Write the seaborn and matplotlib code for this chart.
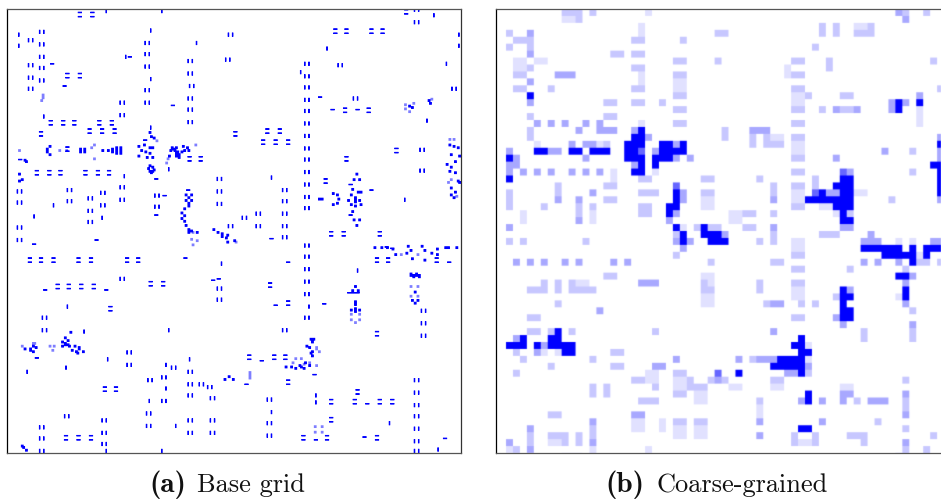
import numpy as np
import matplotlib
matplotlib.use("Agg")
import matplotlib.pyplot as plt
from matplotlib.colors import LinearSegmentedColormap
import seaborn as sns

# ---- base grid: blinker pairs and single bars, (row, col) of the centre
side_by_side = [
 (16,24.5),(22,16.5),(25,25),(34,25),(40,16.5),(42,25),(49,16.5),(51,25),(57,16.5),(67,83),(76,83),
 (24,101),(32,101),(41,101),(58.5,101),(67,101),(37,132),(46,132),(55,133),(64,132),(72,132),(81,132),
 (17.5,161),(36,159),(131,9),(139,9),(130,45),(138,45),(136,60),(132,69),(145,60),(141,69),(153,60),
 (128.5,83),(137,83),(134,108),(142,108),(122,152.5),(131,152.5),(139.5,152.5),(157,9),(156,161),
 (0.5,295),(9,295),(40,240),(39,216),(47.5,216),(56,216),(65,216),(73,216),(82,216),(91,216),(100,216),
 (108.5,216),(117,216),(126,216),(135,216),(143,216),(64,251),(57,322),(101,299),(116,299),(130,200),
 (138,200),(147,200),(156,200),(147,181),(156,181),(150,171),
 (166,9),(194,83),(201,152.5),(209,152.5),(222,26.5),(231,26.5),(247,88),(256,88),(257.5,120),(265,112.5),
 (267,102.5),(261,132),(270,132),(270,140),(272,146),(278,132),(280,147.5),(282,112.5),(291,101.5),
 (300,101.5),(296,132),(296,147.5),(305,132),(305,147.5),(293,42.5),(296,70),(305,70),(313,70),(301,25),
 (309,25),(318,25),
 (164,200),(170,216),(178,216),(187,216),(196,216),(205,216),(222,216),(231,200),(217,300),(226,300),
 (235,300),(267,295),(276,295),(285,295),(293,295),(302,295),(311,295),(318,295),(281,188.5),(298,188.5),
 (307,188.5),
]
stacked = [
 (4,52),(4,61),(48,43),(48,52),(82,31),(82,40),(82,48),(82,66),(82,75),(88,59),(88,68),(88,77),(90,24),
 (101,43),(118,21),(118,30),(118,38),(118,56),(118,65),(118,73),(108,131),(108,139),(90,164),
 (2,287),(15.5,235.5),(15.5,244),(15.5,262),(15.5,270.5),(73,243),(73,260.5),(88,187),(88,195.5),
 (95.5,184),(95.5,193),(95.5,202),(101.5,280.5),(108,244),(124,229),(162,233),(162,242),(162,268),
 (181,16),(181,24.5),(181,33),(181,51),(181,59.5),(181,85.5),(181,94.5),(197.5,103),(197.5,112),(200,36),
 (200,44.5),(200,53),(200,62),(216,74.5),(274,69.5),(274,78),(309,42),(309,51),(309,59.5),
 (181,265.5),(181,274),(181,309),(199,189),(212,202),(234,265.5),(251,174),(251,192),(251,200.5),(269,202),
 (276,252),(283,233),(283,250),(283,268),(283,277),(296,233),(309,213),(309,230.5),(309,265.5),
]
upright_bars = [
 (17.5,8),(26,8),(15,103),(50,103),(24,136),(77,26),(85,103),(120,84),(115,116),(141,33),(150,68),(149,19),
 (34,85),(1,71),(1,111),
 (3.5,307),(17.5,325),(26,325),(28.5,230),(45,211),(39,316),(80,302),(121,190),(137,286),
 (214,43),(232,55),(231,116),(183,154),(252,71.5),(252,131),(256,114),(261,14),(258,41.5),(273,114),(282,102.5),
 (300,121),(318,71),(318,111),
 (188,252),(214,217),(290,190),(298,275),(317,310),(278,222),(283,222),
]
flat_bars = [
 (39,32),(34,88),(55,41),(69,119),(122,107),(134,113),(148,107),(108,9),
 (63,225),(72,234),(72,252),(130,262),(94,99),
 (169,19),(166.5,64.5),(202,27),(202,71),(179,128),(195,148),(194,152),(251,21),
 (165,190),(182,202),(213,193),(212,228),(253,183),(270,172),(284,259),(182,318),(310,222),(308,257),(309,315),
 (125.5,247),(148,247),(204,246),(204,249),(204,252),(263,221),(130,130),(172,277),(171,273),
]
# ---- base grid: irregular patterns, (row, col) of small clumps
pattern_cells = [
 (88,102),(91,103),(92,105),(98,94),(97,98),(99,102),(99,104),(101,96),(102,99),(103,102),(105,94),(106,100),(106,104),
 (112,102),(113,104),(117,103),(116,102),(115,105),(114,101),(116,104),
 (99,118),(99,121),(98,126),(99,129),(101,117),(101,120),(102,122),(101,127),(101,130),(105,116),(105,121),(106,123),
 (100,119),(102,125),(103,121),(104,123),
 (100,52),(102,52),(100,55),(102,55),(101,68),(101,72),(100,75),(102,75),(99,78),(101,78),(103,78),(99,81),(101,81),(103,81),
 (100,28),(102,28),(98,30),(104,30),(109,13),(108,12),(118,8),(122,10),(123,8),
 (133,128),(133,132),(135,130),(137,128),(137,132),(139,130),(141,130),
 (143,127),(146,125),(148,127),(150,125),(152,127),(155,128),(158,130),(159,132),(160,136),(160,130),
 (158,148),(160,151),(161,154),(162,158),(163,154),(164,157),(167,158),(166,163),
 (69,289),(70,291),(65,303),(67,304),
 (97,318),(98,321),(99,324),(104,319),(105,325),(109,322),(111,316),(113,319),(116,318),(117,322),(128,319),(123,324),(124,325),
 (131,322),(133,319),(135,321),(136,224),(136,226),(132,234),(140,234),(133,237),(139,237),(136,238),
 (118,251),(122,249),(122,253),(129,248),(131,252),(131,254),(133,247),(137,245),(137,250),(137,253),(140,247),(141,250),(140,254),
 (136,250),(138,250),(135,250),(145,248),(151,249),(151,253),(155,251),
 (244,12),(244,16),(242,18),(243,20),(245,16),(246,18),
 (236,41),(238,43),(239,39),(241,41),(242,44),(242,39),(240,41),(241,43),(232,45),
 (245,46),(246,49),(242,48),(243,51),(246,54),(247,50),(244,51),
 (266,156),(264,159),(266,162),
 (171,264),(171,269),(171,273),(172,277),(176,279),(175,287),(170,288),(173,290),(179,291),(170,298),(173,300),(180,300),
 (175,305),(172,309),(176,309),(171,315),(171,317),(171,323),
 (191,290),(191,292),(191,294),(191,296),(190,290),(192,292),(190,294),(192,296),
 (203,293),(209,291),(209,295),(211,293),
 (199,250),(202,248),(202,252),(210,250),(212,250),(216,247),(216,253),(216,250),(215,250),(217,250),
 (237,218),(237,220),(239,219),(242,215),(243,217),(246,219),(247,218),(249,219),
 (257,200),(257,204),(258,207),(257,211),(258,213),(256,217),(254,214),(256,210),
 (314,10),(315,11),(317,13),
]
faint_cells = [
 (94,107),(101,8),(61,25),(63,25),(65,24),(97,135),(110,114),(107,115),(99,60),(97,62),(107,62),
 (101,37),(101,42),(242,10),(240,18),(240,19),(242,30),(242,33),(245,32),
 (68,286),(73,289),(67,292),(71,286),(64,305),(93,318),(93,321),(124,317),(122,319),(134,323),
 (219,247),(219,253),(223,247),(223,253),(225,250),(199,290),(199,295),(206,290),(206,295),
 (176,283),(176,295),(243,222),(244,222),(251,207),(251,211),(254,205),(255,213),(254,217),(256,222),
 (246,224),(263,174),(261,174),(265,174),(160,133),(166,136),(169,133),(165,132),
 (300,221),(300,226),(304,221),(304,226),(167,164),
]

# ---- coarse grid: row -> "columns:level" (level 1 faint ... 5 full)
coarse_rows = {
 0:"8-10:2 12:2 20:1 56:3 57:2 60:2", 1:"8-9:1 10:2 57:3", 2:"19:1 45:2 47:2 50-51:1 52:2",
 3:"0:2 3:3 19:1 30-31:2 45:2 47:2 50-52:2", 4:"1-3:2 18-19:2 25:2", 5:"0:2 3:2 44:2",
 6:"3:3 15-16:2 18-19:2", 7:"1-2:1 4-5:1 24-25:2 30:2 41-42:2 46:2 61:2",
 8:"1-2:1 3:2 18-19:2 40:1 46:2", 9:"1-2:2 7-9:3 19:1 24-25:2 40:1 41-42:2", 10:"3:3 19:1 24-25:1",
 11:"1-2:2 6:2 18-19:2 24-25:1 41-42:2 62:2", 12:"3:5 24-25:2 41-42:1 43:2 48-49:2 59:3",
 13:"3:3 14-15:2 18-19:2 22:2 41-42:1 55:3 56:5 57:3 59:5", 14:"24-25:2 41-42:2 45:2 47:3 48-49:2 50:3 55:3 56:5 59:1",
 15:"3:2 14-15:2 59:1", 16:"4:3 6:3 8:3 11:3 13:3 19:1 24-25:2 41-42:2 59:1",
 17:"3:2 10:3 13-15:3 18:3 19:5 31:2 35-37:3", 18:"3:2 18-19:5 20:3 31:2 35:2 37:2 38-39:1 41-42:2 62:3",
 19:"4:1 9:3 11-12:3 13:1 14:2 17-19:5 22-23:5 24:3 25:5 35:2 37-39:2 41-42:1 62:5",
 20:"0:3 4-5:5 6-7:3 9-10:5 12-14:5 17-18:5 19:4 21:3 22-25:5 41-42:1 54:3 58:2 62:3",
 21:"0:5 1:3 11:3 17-19:5 21-23:5 24:3 26:3 41-42:2 47:3 62:3", 22:"0-1:3 18:3 19:5 21:5 61-62:5",
 23:"0:3 2:3 4:3 6:3 9:3 11:3 13:3 15:1 18-19:5 21:1 41-42:2 48:4 49:3 58:2 62:5",
 24:"0:5 15:1 19-20:2 28-29:2 36:2 44:2 48-49:5 62:5", 25:"7:2 14-15:2 24:4 38:2 41-42:2 44:2 47-49:5 62:5",
 26:"0:2 7:2 12:3 19-21:2 24:5 25:3 28-29:2 38:2 41-42:1 44:4 45:5 46-47:3 48-49:5 50-51:1 62:5",
 27:"0:2 7:3 10:3 14-15:2 24:5 25:3 28-29:1 38:3 41-42:1 43-49:5 55:2 62:3",
 28:"0:2 5:2 10:2 12:2 19-20:2 23-24:5 28-29:1 41-42:2 45-46:1 47-49:5",
 29:"2:1 10:2 12:1 19-20:2 23:5 24:3 32-33:1 34-35:2 38:2 47:1 48:5 49:2", 30:"2:1 10:3 12:1 23:3 32-33:1 48-49:5",
 31:"0:3 24:5 25:1 27:2 28:5 29-30:2 34-35:2 38:3 48-49:3", 32:"24:2 25:5 28-30:5 31:3 38:2 45-47:2 52:3",
 33:"0:2 2:2 11:2 24:3 25:5 26:3 29-31:5 36:2 38:2 41-42:1 51-53:3 56:1 58:1 61-62:3",
 34:"25:3 41-42:1 51-56:5 58:5 60-62:5", 35:"24:2 41-42:2 54-58:5 59:1 60:5",
 36:"1:3 3:3 5:3 8:3 10:3 15:3 17:3 29:2 38-39:2 51:3 53:3 56:3 58:5 59-60:2 62:2", 37:"41-42:2 49:2 57:2",
 38:"14-15:2 28-29:1 56-57:5 58:3", 39:"5:2 7:2 9:2 10-11:1 19-21:3 28:2 29:1 36:2 41-42:2 57:3",
 40:"3-5:2 7:2 9-12:2 28-29:2 36:2 41-42:1 48:5 49:3 57:5", 41:"28-29:1 41-42:1 47:2 48-49:5 56:1 57:5",
 42:"7:2 28-29:1 37:2 38-39:3 42:2 44:2 48:5 57:3", 43:"13:3 48-49:5 58:2", 44:"3-4:2 41-42:2 47:3 48-49:5",
 45:"48:3 58:3", 46:"3-4:2 6:2 7:5 9:2 21:2 38:3 51:2 58:2", 47:"1:3 2:5 6-7:5 42:5 51:2 58:2",
 48:"0-2:5 4:5 5:3 6-9:5 41-42:5 43:1", 49:"1:2 4:3 5:1 7:1 8-9:5 15-16:2 42-43:5",
 50:"2:2 12:2 24:3 33:3 35:2 36-38:3 39-42:5 43:1", 51:"6:2 15-16:2 21-22:3 38-42:5 43:3",
 52:"1:2 20-21:1 24-25:2 30:4 33:5 40-41:3 42:5 43:2", 53:"18-19:2 20-21:1 24-25:1 26:2 29:2 30:3 31:2 38-39:2 57:2",
 54:"12:2 14:2 21:2 24-25:1 26:2 27-28:2 32-33:1 38-39:1 48-49:1", 55:"12:2 14:2 24-25:2 27-28:1 43:5 48-49:3 57:3",
 56:"19-21:2 27-28:1 36:2 42:3 43:5 45:3 48:3 50:2 52-54:3 57:2", 57:"36:1 57:2", 58:"6-7:2 18-19:3 36:1 57:3",
 59:"12:3 18-19:1 22:1 24-25:2 27-28:2 36:3 45:3 53:2", 60:"3:3 12:2 18-19:1 22:1 24-25:1 27-28:1 42-43:5 57:2",
 61:"3:2 6-8:2 10:2 12:2 24-25:1 27-28:1 36:3 41:2 44:2 49-51:2 61:2",
 62:"0:3 3:2 6-7:1 8:2 10:2 12:3 41:2 42-43:1 44:2 51:2 57:3", 63:"0:1 1:2 3:3 12:1 20:1 57:2 60:2",
}
level_values = [0.0, 0.12, 0.22, 0.34, 0.6, 1.0]
caption_left = ("(a)", "Base grid")
caption_right = ("(b)", "Coarse-grained")

# ---- build the matrices
base = np.zeros((320, 327))
def put(r0, r1, c0, c1, v=1.0):
    base[max(r0, 0):min(r1, 320), max(c0, 0):min(c1, 327)] = v
for r, c in faint_cells:
    put(r, r + 2, c, c + 2, 0.35)
for r, c in pattern_cells:
    put(r, r + 2, c, c + 2, 0.75)
for r, c in side_by_side:
    rr, cc = int(round(r)), int(c - 1.5)
    put(rr - 1, rr + 2, cc, cc + 1); put(rr - 1, rr + 2, cc + 3, cc + 4)
for r, c in stacked:
    rr, cc = int(r - 1.5), int(round(c))
    put(rr, rr + 1, cc - 1, cc + 2); put(rr + 3, rr + 4, cc - 1, cc + 2)
for r, c in upright_bars:
    rr, cc = int(round(r)), int(round(c))
    put(rr - 1, rr + 2, cc, cc + 1)
for r, c in flat_bars:
    rr, cc = int(round(r)), int(round(c))
    put(rr, rr + 1, cc - 1, cc + 2)

coarse = np.zeros((64, 65))      # the first two columns are empty, cut by the frame
for row, text in coarse_rows.items():
    for tok in text.split():
        cols, lev = tok.split(":")
        a, _, b = cols.partition("-")
        coarse[row, int(a) + 2:int(b or a) + 3] = level_values[int(lev)]

def area_axis(a, lo, hi, n, axis):
    """Average a over n equal bins between lo and hi along axis."""
    a = np.moveaxis(a, axis, 0)
    cum = np.concatenate([np.zeros((1,) + a.shape[1:]), np.cumsum(a, axis=0)])
    e = np.linspace(lo, hi, n + 1)
    i = np.clip(np.floor(e).astype(int), 0, a.shape[0] - 1)
    f = (e - i)[:, None]
    at = cum[i] + f * a[i]
    out = (at[1:] - at[:-1]) / (e[1] - e[0])
    return np.moveaxis(out, 0, axis)

def soften(a, k):
    out = a.copy()
    for axis in (0, 1):
        out = (1 - 2 * k) * out + k * (np.roll(out, 1, axis) + np.roll(out, -1, axis))
    return out

W, H = 941, 500
base_px = np.clip(area_axis(area_axis(base, 0, 320, 444, 0), 0, 327, 454, 1) * 1.45, 0, 1)
coarse_px = soften(area_axis(area_axis(coarse, 0, 64, 444, 0), 0.56, 64.56, 445, 1), 0.12)

# ---- draw
sns.set_theme(style="white")
cmap = LinearSegmentedColormap.from_list("wb", ["#ffffff", "#0000ff"])
fig = plt.figure(figsize=(W / 100, H / 100), dpi=100, facecolor="white")
ax1 = fig.add_axes([7 / W, 1 - 453 / H, 454 / W, 444 / H])
ax2 = fig.add_axes([496 / W, 1 - 453 / H, 445 / W, 444 / H])

for ax, data in ((ax1, base_px), (ax2, coarse_px)):
    sns.heatmap(data, ax=ax, cmap=cmap, vmin=0, vmax=1, cbar=False,
                xticklabels=False, yticklabels=False, linewidth=0)
    ax.set_facecolor("white")
    for name, col in (("left", "#000000"), ("top", "#555555"), ("bottom", "#555555"), ("right", "#333333")):
        sp = ax.spines[name]
        sp.set_visible(True); sp.set_color(col); sp.set_linewidth(0.9)
ax2.spines["right"].set_visible(False)

y_cap = 1 - 492 / H
fig.text(149 / W, y_cap, caption_left[0], family="cmb10", fontsize=21, color="#111111", va="baseline")
fig.text(197 / W, y_cap, caption_left[1], family="cmr10", fontsize=19, color="#111111", va="baseline")
fig.text(605 / W, y_cap, caption_right[0], family="cmb10", fontsize=21, color="#111111", va="baseline")
fig.text(656 / W, y_cap, caption_right[1], family="cmr10", fontsize=19, color="#111111", va="baseline")

fig.savefig("out.png", dpi=100, facecolor="white")
